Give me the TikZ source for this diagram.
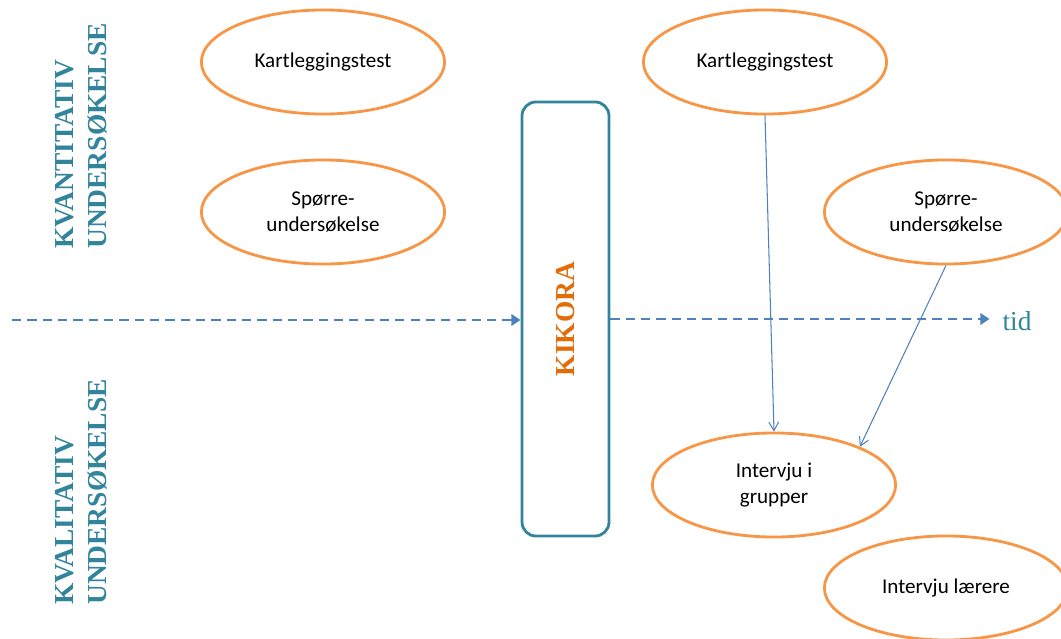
\documentclass[tikz,border=0pt]{standalone}
\usepackage{fontspec}
\setmainfont{Carlito}
\newfontfamily\seriffont{Liberation Serif}
\usetikzlibrary{shapes.geometric,arrows.meta}

\definecolor{naranja}{HTML}{F79646}
\definecolor{turquesa}{HTML}{31849B}
\definecolor{naranjaosc}{HTML}{E36C09}
\definecolor{azul}{HTML}{4F81BD}

\begin{document}
\begin{tikzpicture}[x=0.025cm, y=-0.025cm,
  elipse/.style={ellipse, draw=naranja, line width=2pt, minimum width=6.08cm,
    minimum height=2.6cm, inner sep=0pt, align=center, font=\fontsize{15}{18}\selectfont},
  titulo/.style={rotate=90, anchor=west, inner sep=0pt, align=left, text=turquesa,
    font=\seriffont\bfseries\fontsize{19.5}{23.5}\selectfont},
  eje/.style={azul, line width=1.6pt, dash pattern=on 6.6pt off 4.3pt,
    -{Triangle[length=6.5pt,width=8pt]}},
  flecha/.style={azul, line width=0.75pt, -{Straight Barb[length=6pt,width=7pt]}}]

  % Marco
  \useasboundingbox (0,0) rectangle (1061,639);
  \clip (0,0) rectangle (1061,639);

  % Titulos laterales
  \node[titulo] (kvant) at (81,249) {KVANTITATIV\\UNDERSØKELSE};
  \node[titulo] (kval) at (81,605) {KVALITATIV\\UNDERSØKELSE};

  % Ovalos antes de KIKORA
  \node[elipse] (kart1) at (323,62) {Kartleggingstest};
  \node[elipse] (sporre1) at (323,212) {Spørre-\\undersøkelse};

  % Caja KIKORA
  \node[draw=turquesa, line width=2pt, rounded corners=0.35cm, minimum width=2.175cm,
    minimum height=10.85cm, inner sep=0pt] (kikora) at (565.5,319) {};
  \node[rotate=90, text=naranjaosc, font=\seriffont\bfseries\fontsize{19.5}{20}\selectfont]
    (kikoratxt) at (kikora) {KIKORA};

  % Ovalos despues de KIKORA
  \node[elipse] (kart2) at (765,62) {Kartleggingstest};
  \node[elipse] (sporre2) at (946,212) {Spørre-\\undersøkelse};
  \node[elipse] (gruppe) at (774,485) {Intervju i\\grupper};
  \node[elipse] (laerer) at (946,588) {Intervju lærere};

  % Eje del tiempo
  \coordinate (inicio) at (12,320);
  \node[text=turquesa, font=\seriffont\fontsize{19.5}{20}\selectfont, inner xsep=9pt,
    inner ysep=0pt] (tid) at (1017,321) {tid};
  \draw[eje] (inicio) -- (inicio -| kikora.west);
  \draw[eje] (kikora.east) -- (kikora.east -| tid.west);

  % Flechas
  \draw[flecha] (kart2.south) -- (gruppe.north);
  \draw[flecha] (sporre2.south) -- (gruppe.24);
\end{tikzpicture}
\end{document}
